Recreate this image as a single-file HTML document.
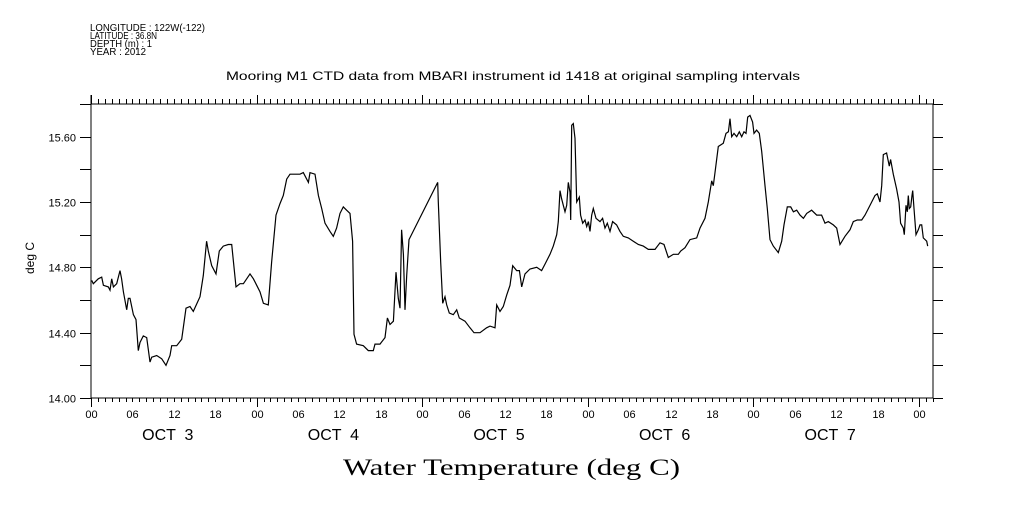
<!DOCTYPE html>
<html><head><meta charset="utf-8"><style>
body{margin:0;background:#fff;width:1009px;height:504px;overflow:hidden}
svg text{font-family:"Liberation Sans",sans-serif;fill:#000}
</style></head><body>
<svg id="chart" width="1009" height="504" xmlns="http://www.w3.org/2000/svg">
<g font-size="10">
<text x="90" y="31" textLength="115" lengthAdjust="spacingAndGlyphs">LONGITUDE : 122W(-122)</text>
<text x="90" y="39" textLength="67" lengthAdjust="spacingAndGlyphs">LATITUDE : 36.8N</text>
<text x="90" y="47" textLength="62" lengthAdjust="spacingAndGlyphs">DEPTH (m) : 1</text>
<text x="90" y="55" textLength="56" lengthAdjust="spacingAndGlyphs">YEAR : 2012</text>
</g>
<text x="226" y="80" font-size="12" textLength="574" lengthAdjust="spacingAndGlyphs">Mooring M1 CTD data from MBARI instrument id 1418 at original sampling intervals</text>
<text x="34" y="258" font-size="12" text-anchor="middle" transform="rotate(-90 34 258)">deg C</text>
<text x="343" y="475" font-size="23" textLength="337" lengthAdjust="spacingAndGlyphs" style="font-family:'Liberation Serif',serif">Water Temperature (deg C)</text>
<g id="axes"></g>
<path id="series" fill="none" stroke="#000" stroke-width="1.2"/>
</svg>
<script>
const hours=[0.10,0.34,1.06,1.55,1.79,2.51,2.75,3.00,3.24,3.72,4.20,4.44,4.69,5.17,5.41,5.65,6.14,6.52,6.86,7.10,7.58,8.07,8.55,8.79,9.52,10.24,10.87,11.45,11.69,12.42,13.14,13.77,14.35,14.83,15.80,16.28,16.76,17.00,17.49,18.12,18.60,19.18,19.90,20.39,21.01,21.59,22.08,23.04,23.53,24.01,24.49,24.98,25.70,26.18,26.81,27.39,27.87,28.36,28.84,29.57,30.29,30.77,31.50,31.74,32.46,32.95,33.43,33.91,34.64,35.12,35.60,36.09,36.57,37.05,37.54,37.92,38.12,38.50,39.47,40.19,40.92,41.16,41.88,42.61,42.95,43.33,43.82,44.20,44.54,44.78,45.02,45.27,45.51,45.75,46.09,50.24,50.34,50.68,50.97,51.30,51.55,51.93,52.51,53.00,53.38,54.20,54.93,55.51,56.38,57.34,57.83,58.55,58.79,59.28,59.76,60.24,60.72,61.11,61.69,62.08,62.42,62.90,63.62,64.59,65.31,65.80,66.52,67.00,67.49,67.73,67.97,68.21,68.45,68.70,68.94,69.18,69.42,69.52,69.66,69.90,70.14,70.39,70.77,70.96,71.26,71.59,71.84,72.08,72.32,72.56,72.80,73.19,73.77,74.15,74.49,74.83,75.22,75.60,76.18,76.67,77.15,77.87,78.60,79.32,80.05,80.77,81.74,82.46,83.04,83.67,84.40,85.12,85.46,86.09,86.81,87.78,88.26,88.99,89.47,89.95,90.19,90.43,90.92,91.64,92.03,92.37,92.61,92.85,93.19,93.58,93.96,94.30,94.64,94.93,95.17,95.51,95.89,96.09,96.47,96.86,97.20,97.68,98.02,98.41,98.89,99.61,100.10,100.43,100.92,101.40,101.79,102.27,102.75,103.24,103.72,104.44,105.17,105.89,106.38,106.86,107.58,108.07,108.55,109.28,110.00,110.48,111.06,111.69,112.17,112.66,113.14,113.62,113.96,114.35,114.59,114.83,115.31,115.70,115.89,116.28,116.76,117.10,117.34,117.73,117.87,118.12,118.31,118.45,118.60,118.79,118.99,119.08,119.28,119.57,119.90,120.14,120.39,120.63,121.11,121.26];
const temps=[14.72,14.70,14.73,14.74,14.69,14.68,14.66,14.73,14.68,14.70,14.78,14.73,14.65,14.54,14.61,14.61,14.51,14.48,14.29,14.34,14.38,14.37,14.22,14.25,14.26,14.24,14.20,14.26,14.32,14.32,14.36,14.55,14.56,14.53,14.62,14.75,14.96,14.90,14.81,14.76,14.90,14.93,14.94,14.94,14.68,14.70,14.70,14.76,14.73,14.69,14.65,14.58,14.57,14.83,15.12,15.19,15.24,15.34,15.37,15.37,15.37,15.38,15.32,15.38,15.37,15.24,15.16,15.07,15.02,14.99,15.04,15.13,15.17,15.15,15.13,14.96,14.39,14.33,14.32,14.29,14.29,14.33,14.33,14.37,14.49,14.45,14.47,14.77,14.61,14.55,15.03,14.88,14.54,14.75,14.97,15.32,15.20,14.83,14.58,14.62,14.57,14.52,14.51,14.54,14.49,14.47,14.43,14.40,14.40,14.43,14.44,14.43,14.57,14.53,14.56,14.63,14.69,14.81,14.78,14.78,14.68,14.76,14.79,14.80,14.78,14.82,14.88,14.93,15.00,15.08,15.27,15.22,15.18,15.14,15.18,15.32,15.26,15.09,15.67,15.68,15.59,15.20,15.23,15.12,15.07,15.09,15.05,15.08,15.02,15.12,15.16,15.10,15.08,15.10,15.04,15.07,15.02,15.08,15.06,15.02,14.99,14.98,14.96,14.94,14.93,14.91,14.91,14.95,14.94,14.86,14.88,14.88,14.90,14.92,14.97,14.98,15.04,15.10,15.20,15.33,15.30,15.38,15.54,15.56,15.62,15.63,15.71,15.60,15.62,15.60,15.63,15.60,15.63,15.62,15.72,15.73,15.69,15.62,15.64,15.62,15.51,15.30,15.16,14.97,14.93,14.89,14.96,15.06,15.17,15.17,15.14,15.15,15.12,15.10,15.13,15.15,15.12,15.12,15.07,15.08,15.06,15.04,14.94,14.99,15.03,15.08,15.09,15.09,15.12,15.16,15.20,15.24,15.25,15.20,15.30,15.49,15.50,15.42,15.46,15.37,15.28,15.20,15.07,15.04,15.00,15.18,15.14,15.24,15.16,15.17,15.24,15.27,15.16,15.00,15.03,15.06,15.06,14.98,14.96,14.93];
const yTicks=[14.0,14.2,14.4,14.6,14.8,15.0,15.2,15.4,15.6,15.8];
const yLabels=["14.00","14.40","14.80","15.20","15.60"];
const hourLabels=["00","06","12","18"];
const dayLabels=["OCT  3","OCT  4","OCT  5","OCT  6","OCT  7"];

const X0=91,X1=933,Y0=398,Y1=104,HMAX=(X1-X0)/(165.6/24);
const sx=h=>X0+h*(165.6/24);
const sy=v=>Y0-(v-14)*(Y0-Y1)/1.8;
const NS="http://www.w3.org/2000/svg";
const ax=document.getElementById('axes');
function ln(x1,y1,x2,y2,name){const l=document.createElementNS(NS,'line');l.setAttribute('x1',x1);l.setAttribute('y1',y1);l.setAttribute('x2',x2);l.setAttribute('y2',y2);l.setAttribute('stroke','#000');l.setAttribute('stroke-width','1');


ax.appendChild(l);return l;}
function tx(x,y,s,size,anchor,name){const t=document.createElementNS(NS,'text');t.setAttribute('x',x);t.setAttribute('y',y);t.setAttribute('font-size',size);t.setAttribute('text-anchor',anchor);t.textContent=s;t.style.whiteSpace='pre';


ax.appendChild(t);}
ln(X0,95,X0,Y0,'left-axis');ln(X1,Y1,X1,Y0,'right-axis');
ln(X0,Y1,X1,Y1,'top-axis');ln(X0,Y0,X1,Y0,'bottom-axis');
yTicks.forEach((v,i)=>{const y=Math.round(sy(v))+0.5;ln(80,y,X0,y,'y-tick');ln(X1,y,943,y,'y-tick-right');
 if(i%2===0)tx(76,y+4,yLabels[i/2],11,'end','y-tick-label');});
for(let h=0;h<=HMAX;h++){const x=Math.round(sx(h))+0.5;const major=h%24===0;
 ln(x,major?95:99,x,Y1,'top-tick');ln(x,Y0,x,major?407:402,'bottom-tick');
 if(h%6===0)tx(x,418,hourLabels[(h/6)%4],11,'middle','x-tick-label');}
dayLabels.forEach((d,i)=>tx(sx(i*24+12)-6,440,d,16,'middle','day-label'));
let d='';hours.forEach((h,i)=>{d+=(i?'L':'M')+sx(h).toFixed(1)+' '+sy(temps[i]).toFixed(1);});
document.getElementById('series').setAttribute('d',d);
</script>
</body></html>
